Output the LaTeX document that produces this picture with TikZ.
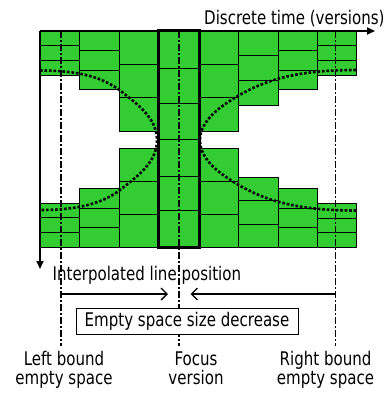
\documentclass[tikz,border=0pt]{standalone}
\usepackage{fontspec}
\setmainfont[FakeStretch=0.80]{DejaVu Sans}
\usetikzlibrary{arrows.meta}
\definecolor{cellgreen}{RGB}{51,204,51}
\begin{document}
\begin{tikzpicture}[x=1pt,y=-1pt,
  cell/.style={draw=black, fill=cellgreen, line width=0.9pt},
  axisline/.style={line width=1.8pt, -{Triangle[length=8pt,width=7pt]}},
  guide/.style={line width=1.6pt, dash pattern=on 7pt off 2.2pt on 1.6pt off 2.2pt},
  curvedots/.style={line width=2.6pt, dash pattern=on 2.6pt off 1.9pt},
  focusbox/.style={draw=black, line width=3pt},
  lbl/.style={font=\fontsize{18.8}{19.5}\selectfont, inner sep=0pt},
  pointer/.style={line width=1.3pt, -{Straight Barb[length=6pt,width=12pt]}}]
\useasboundingbox (0,0) rectangle (387,393);
% columns of cells (three rows per group)
\foreach \a/\b/\p/\q/\r/\s in {
  40/79.3/31/45.3/60.7/75, 40/79.3/203/217.7/232.3/247.7,
  79.3/119/31/50.7/70.3/89.7, 79.3/119/188.7/208/227.7/247.7,
  119/158.8/31/64.3/97.7/131, 119/158.8/148/181/214.3/247.7,
  199/238/31/64.3/97.7/131, 199/238/148/181/214.3/247.7,
  238/278/31/55.7/80.3/105.3, 238/278/177.7/200.7/224.3/247.7,
  278/317/31/50.7/70.3/89.7, 278/317/188.7/208/227.7/247.7,
  317/356.3/31/45.3/60.7/75, 317/356.3/203.3/218/232.3/247.7}{
  \draw[cell] (\a,\p) rectangle (\b,\q);
  \draw[cell] (\a,\q) rectangle (\b,\r);
  \draw[cell] (\a,\r) rectangle (\b,\s);
}
% focus column
\foreach \p/\q in {31/68.3, 68.3/103, 103/139.3, 139.3/176, 176/210.3, 210.3/247.2}{
  \draw[cell] (158.8,\p) rectangle (199,\q);
}
% dotted interpolation curves
\draw[curvedots] (40,70.5) .. controls (70,70.5) and (100,74.2) .. (122,92)
  .. controls (137,104) and (157,118) .. (157,140.2)
  .. controls (157,162.5) and (137,176.5) .. (122,188.5)
  .. controls (100,206.3) and (70,210) .. (40,210);
\draw[curvedots] (356,70) .. controls (300,70) and (266.7,78.7) .. (236.7,96.7)
  .. controls (221.7,105.7) and (200,120) .. (200,140.2)
  .. controls (200,160.5) and (221.7,174.8) .. (236.7,183.8)
  .. controls (266.7,201.8) and (300,210.5) .. (356,210.5);
% guide coordinates
\coordinate (lt) at (60.7,31);   \coordinate (lb) at (60.7,346);
\coordinate (ft) at (178.9,31);  \coordinate (fb) at (178.9,346);
\coordinate (rt) at (335.6,31);  \coordinate (rb) at (335.6,346);
\draw[guide] (lt) -- (lb);
\draw[guide] (ft) -- (fb);
\draw[guide] (rt) -- (rb);
% focus frame
\draw[focusbox] (158.8,30.5) rectangle (199,247.2);
% axes
\coordinate (origin) at (40,31);
\coordinate (timeend) at (375,31);
\coordinate (posend) at (40,269);
\draw[axisline] (origin) -- (timeend);
\draw[axisline] (origin) -- (posend);
\node[lbl, anchor=base west] (timelbl) at (204,25) {Discrete time (versions)};
\node[lbl, anchor=base west] (poslbl) at (52.5,280) {Interpolated line position};
% decrease arrows
\coordinate (la) at (60.7,294); \coordinate (lz) at (168,294);
\coordinate (ra) at (335.6,294); \coordinate (rz) at (190.5,294);
\draw[pointer] (la) -- (lz);
\draw[pointer] (ra) -- (rz);
\node[lbl, draw=black, line width=0.9pt, fill=white, minimum width=222pt, minimum height=26pt] (dec) at (187,321) {Empty space size decrease};
% bottom labels
\node[lbl, anchor=base, align=center] (leftlbl) at (64,384.5) {Left bound\\empty space};
\node[lbl, anchor=base, align=center] (focuslbl) at (196,384.5) {Focus\\version};
\node[lbl, anchor=base, align=center] (rightlbl) at (325.5,384.5) {Right bound\\empty space};
\end{tikzpicture}
\end{document}
